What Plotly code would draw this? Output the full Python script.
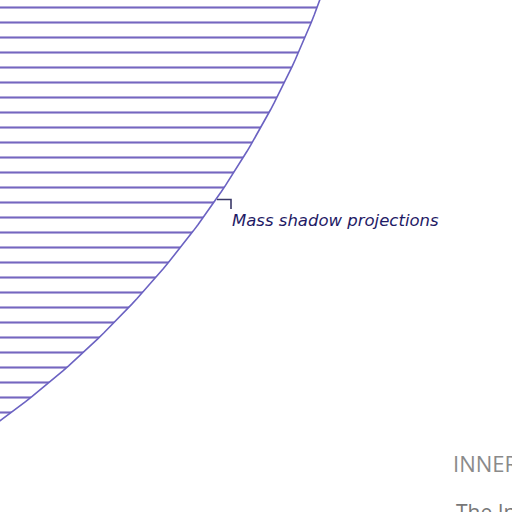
import numpy as np
import plotly.graph_objects as go

# shadow disc (pixel-like units, y grows downward)
disc_center = (-539, -321)
disc_radius = 917
hatch_spacing = 15

callout_text = "Mass shadow projections"
section_title = "INNER"
section_body = "The In"

t = np.linspace(0, 2 * np.pi, 721)
xs = disc_center[0] + disc_radius * np.cos(t)
ys = disc_center[1] + disc_radius * np.sin(t)

fig = go.Figure()
fig.add_trace(go.Scatter(
    x=xs, y=ys, mode="lines", fill="toself",
    fillcolor="rgba(0,0,0,0)",
    fillpattern=dict(shape="-", size=hatch_spacing, solidity=0.14,
                     fgcolor="#7566c0", fgopacity=1, fillmode="replace",
                     bgcolor="rgba(0,0,0,0)"),
    line=dict(color="#6b62c2", width=1.6),
    hoverinfo="skip", showlegend=False))

# leader for the callout
fig.add_shape(type="path", path="M217,199.5 L231,199.5 L231,209",
              line=dict(color="#3a3868", width=1.6))

fig.add_annotation(x=230, y=220, text=callout_text, showarrow=False,
                   xanchor="left", yanchor="middle",
                   font=dict(family="DejaVu Sans", size=16.5, color="#1f1b66",
                             style="italic", weight=300))
fig.add_annotation(x=451, y=463, text=section_title, showarrow=False,
                   xanchor="left", yanchor="middle",
                   font=dict(family="Open Sans", size=22, color="#8a8a8a"))
fig.add_annotation(x=454, y=496, text=section_body, showarrow=False,
                   xanchor="left", yanchor="top",
                   font=dict(family="Open Sans", size=21, color="#777777"))

fig.update_xaxes(range=[0, 512], visible=False, fixedrange=True)
fig.update_yaxes(range=[512, 0], visible=False, fixedrange=True)
fig.update_layout(width=512, height=512, margin=dict(l=0, r=0, t=0, b=0),
                  plot_bgcolor="white", paper_bgcolor="white")
fig.write_html("out.html", config={"displayModeBar": False},
               post_script="document.body.style.margin='0';document.body.style.overflow='hidden';")
